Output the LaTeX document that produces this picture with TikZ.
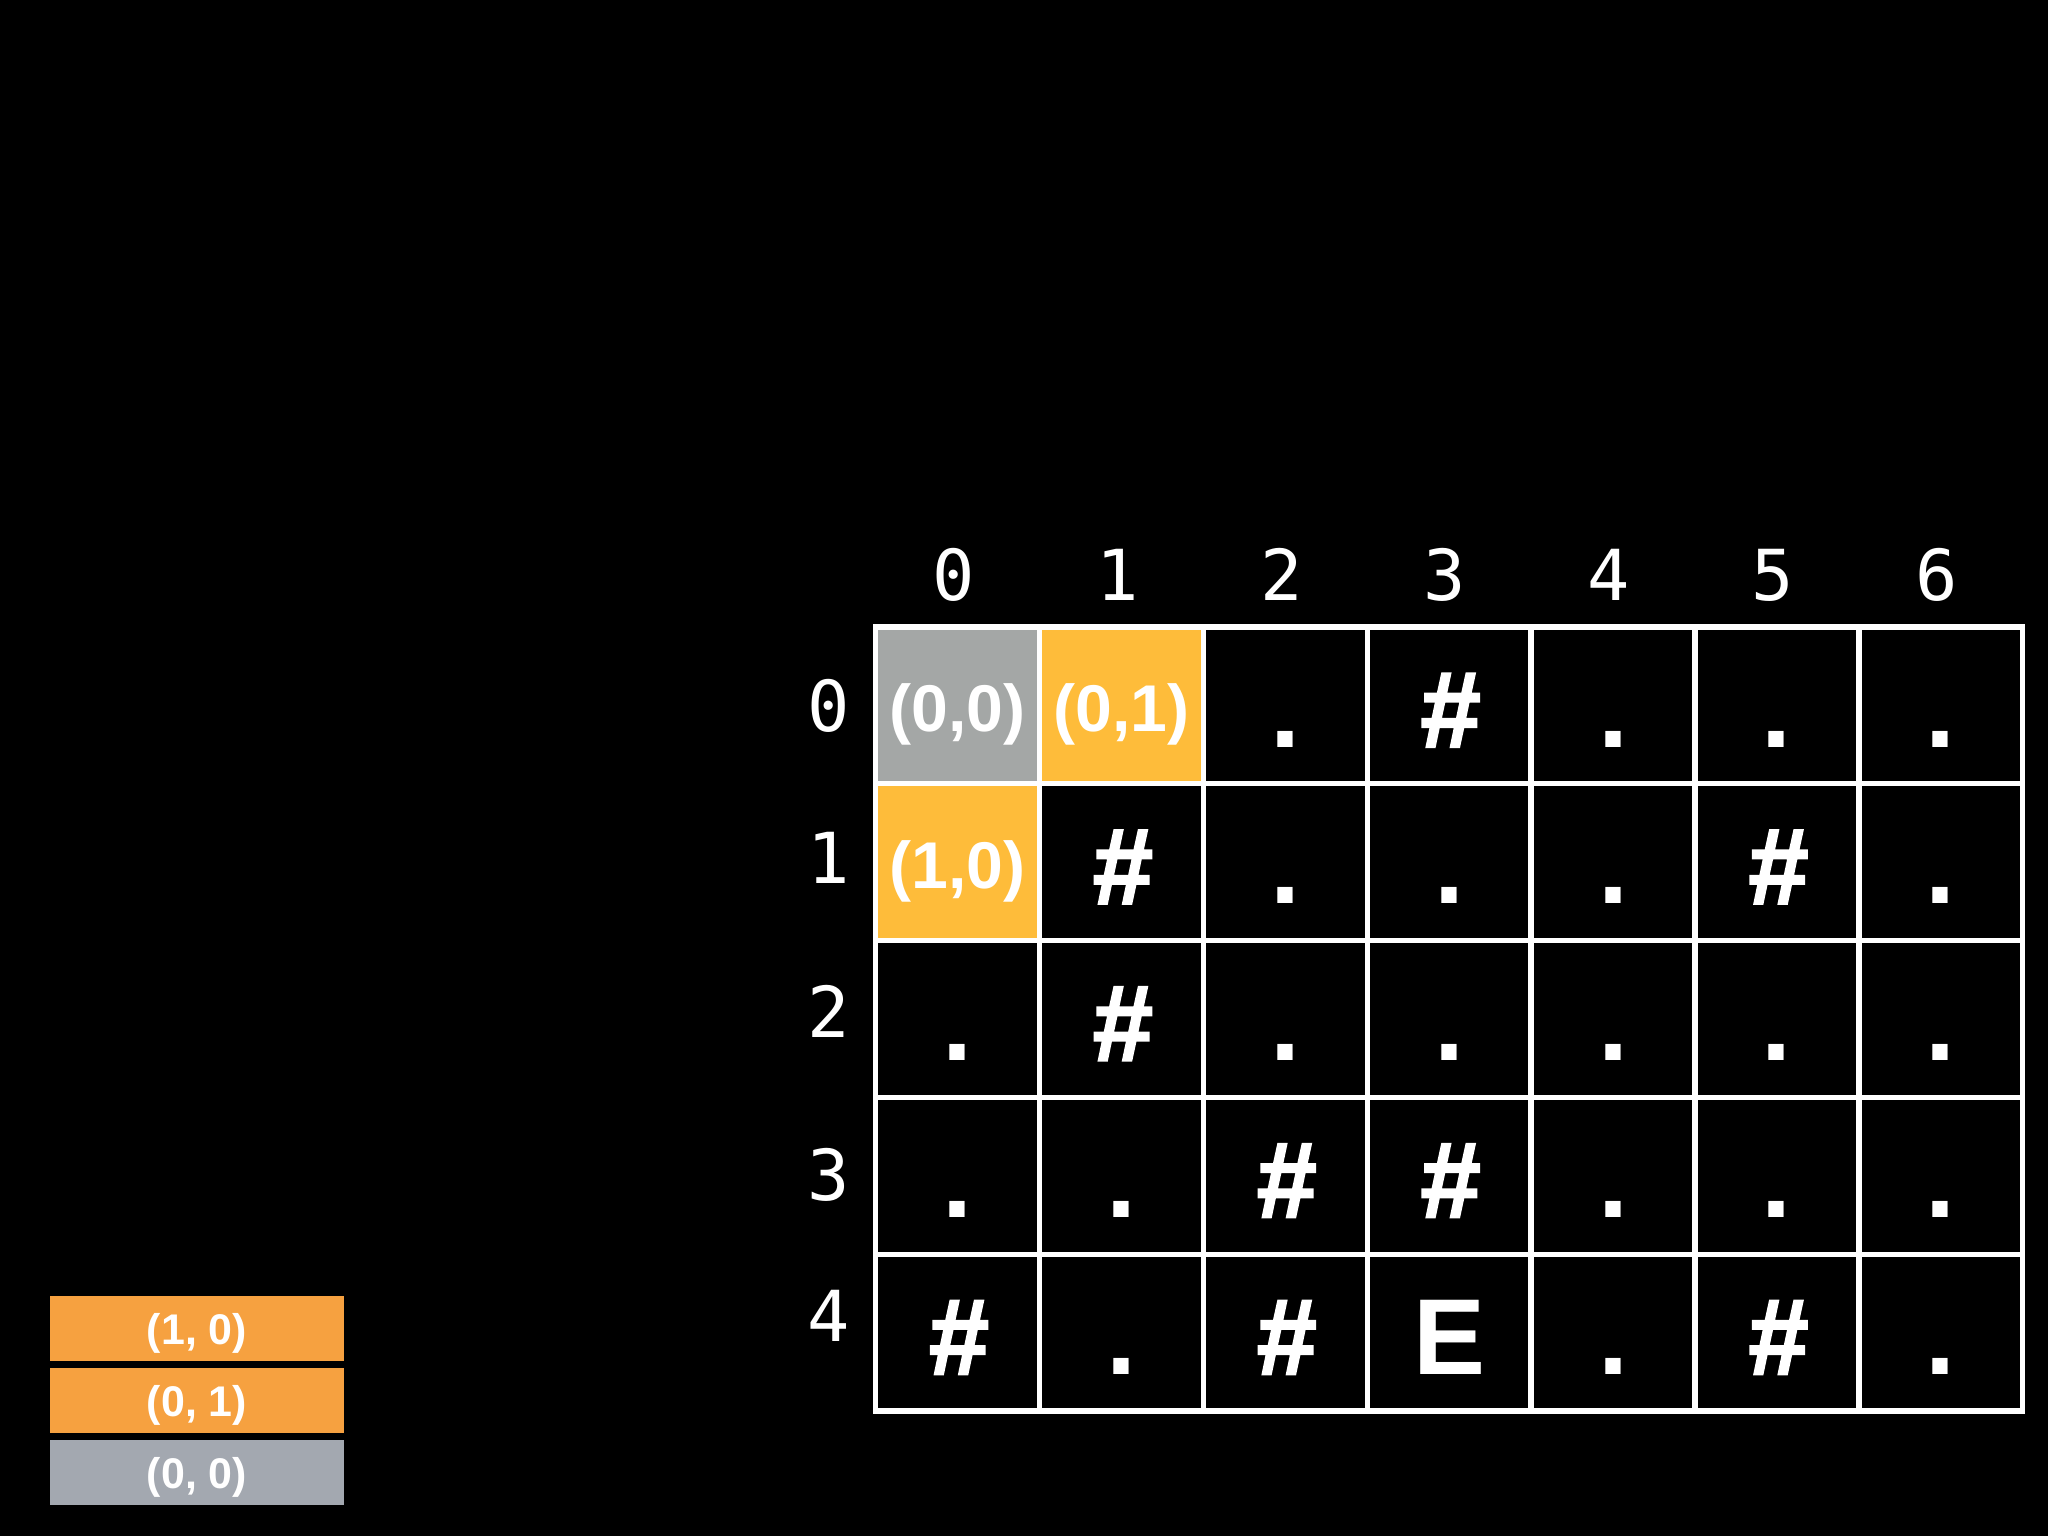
\documentclass[tikz,border=0pt]{standalone}
\usepackage{fontspec}
\setmainfont{Liberation Sans}
\newfontfamily\gridmono{DejaVu Sans Mono}
\newfontfamily\hashfont[FakeBold=2]{Liberation Sans Bold Italic}
\definecolor{cellgray}{RGB}{164,167,166}
\definecolor{cellyellow}{RGB}{254,188,58}
\definecolor{qorange}{RGB}{246,161,64}
\definecolor{qgray}{RGB}{163,168,176}
\newcommand\hsh{{\hashfont\#}}
\newcommand\dt{.}
\begin{document}
\begin{tikzpicture}[x=0.01cm,y=-0.01cm,
  gridline/.style={draw=white,line width=1.5pt,line cap=rect},
  cellch/.style={anchor=base,text=white,inner sep=0pt,font=\fontsize{30.7pt}{36pt}\selectfont\bfseries},
  pairlbl/.style={text=white,inner sep=0pt,font=\fontsize{18.8pt}{22pt}\selectfont\bfseries},
  idxlbl/.style={text=white,inner sep=0pt,font=\gridmono\fontsize{20pt}{24pt}\selectfont},
  qbox/.style={minimum width=2.94cm,minimum height=0.65cm,inner sep=0pt,text height=0.42cm,text depth=0.1cm,text=white,font=\fontsize{12.2pt}{14pt}\selectfont\bfseries}]
\useasboundingbox[fill=black] (0,0) rectangle (2048,1536);
% highlighted cells
\fill[cellgray] (875.5,627) rectangle ++(163.9,156.8);
\fill[cellyellow] (1039.4,627) rectangle ++(163.9,156.8);
\fill[cellyellow] (875.5,783.8) rectangle ++(163.9,156.8);
% grid lines
\foreach \i in {0,...,7} \draw[gridline] ({875.5+\i*163.9},627) -- ({875.5+\i*163.9},1411);
\foreach \j in {0,...,5} \draw[gridline] (875.5,{627+\j*156.8}) -- (2022.8,{627+\j*156.8});
% column labels
\foreach \c in {0,...,6} \node[idxlbl,anchor=base] (col\c) at ({875.5+(\c+0.5)*163.9-4},600) {\c};
% row labels
\foreach \r/\yy in {0/706,1/858,2/1011,3/1175,4/1316} \node[idxlbl] (row\r) at (829,\yy) {\r};
% pair labels
\node[pairlbl] (p00) at ({875.5+0.5*163.9},{627+0.5*156.8+9}) {(0,0)};
\node[pairlbl] (p01) at ({875.5+1.5*163.9},{627+0.5*156.8+9}) {(0,1)};
\node[pairlbl] (p10) at ({875.5+0.5*163.9},{627+1.5*156.8+9}) {(1,0)};
% cell characters
\foreach \c/\t in {2/\dt,3/\hsh,4/\dt,5/\dt,6/\dt}
  \node[cellch] (c0\c) at ({875.5+(\c+0.5)*163.9},{627+120}) {\t};
\foreach \c/\t in {1/\hsh,2/\dt,3/\dt,4/\dt,5/\hsh,6/\dt}
  \node[cellch] (c1\c) at ({875.5+(\c+0.5)*163.9},{627+156.8+120}) {\t};
\foreach \c/\t in {0/\dt,1/\hsh,2/\dt,3/\dt,4/\dt,5/\dt,6/\dt}
  \node[cellch] (c2\c) at ({875.5+(\c+0.5)*163.9},{627+2*156.8+120}) {\t};
\foreach \c/\t in {0/\dt,1/\dt,2/\hsh,3/\hsh,4/\dt,5/\dt,6/\dt}
  \node[cellch] (c3\c) at ({875.5+(\c+0.5)*163.9},{627+3*156.8+120}) {\t};
\foreach \c/\t in {0/\hsh,1/\dt,2/\hsh,3/E,4/\dt,5/\hsh,6/\dt}
  \node[cellch] (c4\c) at ({875.5+(\c+0.5)*163.9},{627+4*156.8+120}) {\t};
% queue
\node[qbox,fill=qorange] (q1) at (197,1328.5) {(1, 0)};
\node[qbox,fill=qorange] (q2) at (197,1400.5) {(0, 1)};
\node[qbox,fill=qgray] (q3) at (197,1472) {(0, 0)};
\end{tikzpicture}
\end{document}
